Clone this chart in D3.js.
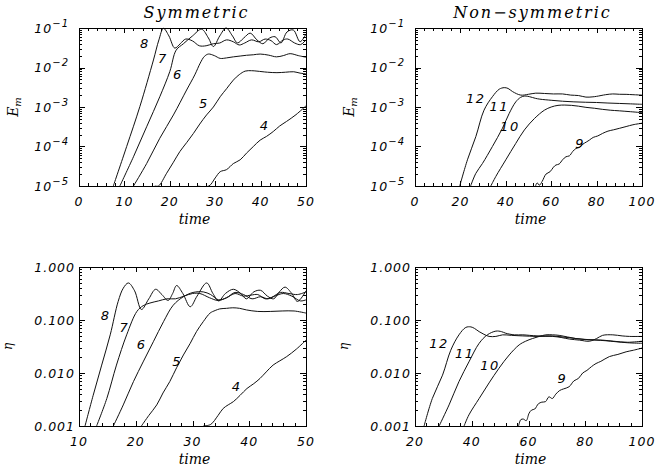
<!DOCTYPE html>
<html><head><meta charset="utf-8">
<script src="https://cdn.jsdelivr.net/npm/d3@7"></script>
<style>body{margin:0;background:#fff}</style>
</head><body><svg id="c" width="672" height="470"></svg>
<script>
// ---------------- DATA ----------------
const titles = ["Symmetric", "Non\u2212symmetric"];
const xLabel = "time";
const symTimeTicks = [0, 10, 20, 30, 40, 50];
const nonTimeTicks = [0, 20, 40, 60, 80, 100];
const symEtaTimeTicks = [10, 20, 30, 40, 50];
const nonEtaTimeTicks = [20, 40, 60, 80, 100];
const emTicks = [1e-5, 1e-4, 1e-3, 1e-2, 1e-1];
const emTickExp = ["\u22125", "\u22124", "\u22123", "\u22122", "\u22121"];
const etaTicks = [0.001, 0.01, 0.1, 1];
const etaTickLabels = ["0.001", "0.010", "0.100", "1.000"];

// Symmetric, E_m  [time, value]
const symEm4 = [[26,1e-5],[28.6,1e-5],[30,1.6e-5],[31.1,2.3e-5],[32.5,2.6e-5],[34,3.7e-5],[35.5,4.6e-5],[36.9,6.8e-5],[38.4,1.0e-4],[39.9,1.45e-4],[41.3,1.8e-4],[42.8,2.4e-4],[44.2,3.3e-4],[45.7,4.3e-4],[47.8,6.4e-4],[50,1.07e-3]];
const symEm5 = [[16.7,1e-5],[17.5,1e-5],[19.3,2.1e-5],[20.8,4.0e-5],[22.2,7.4e-5],[23.7,1.25e-4],[25.2,2.14e-4],[26.6,3.7e-4],[28.1,6.3e-4],[29.6,1.0e-3],[31.1,1.82e-3],[32.5,2.9e-3],[34,4.8e-3],[35.3,6.6e-3],[36.6,8.1e-3],[38,8.3e-3],[39.2,8.1e-3],[41.5,7.6e-3],[43.6,7.4e-3],[45.5,7.6e-3],[47.3,7.8e-3],[48.7,7.2e-3],[50,6.9e-3]];
const symEm6 = [[12,1e-5],[14.9,3.7e-5],[17.8,1.62e-4],[20.8,6.3e-4],[23.7,2.69e-3],[25.5,6.5e-3],[26.7,0.0129],[27.6,0.019],[28.5,0.0219],[29.8,0.020],[31.1,0.017],[32.5,0.0175],[34,0.0186],[35.5,0.0195],[36.9,0.0204],[38.4,0.021],[39.9,0.0219],[41.8,0.0205],[43.5,0.0186],[45,0.020],[46.5,0.0224],[48.3,0.020],[50,0.0182]];
const symEm7 = [[9,1e-5],[12,5.5e-5],[14.9,3.16e-4],[17.8,1.82e-3],[20,7.9e-3],[21.4,0.0275],[23,0.04],[25,0.063],[27,0.093],[28.5,0.056],[29.6,0.034],[31,0.063],[32.4,0.1],[33.8,0.063],[34.9,0.042],[36.3,0.056],[37.7,0.074],[39.2,0.05],[40.5,0.04],[42,0.056],[43.2,0.06],[44.5,0.042],[45.8,0.079],[47.2,0.089],[48.7,0.045],[50,0.071]];
const symEm8 = [[7.56,1e-5],[10.5,1e-4],[13.4,1.02e-3],[16.4,0.0155],[17.6,0.05],[18.6,0.098],[19.8,0.063],[21.1,0.031],[22.3,0.04],[23.5,0.0525],[25,0.047],[26.5,0.0355],[28,0.0355],[29.6,0.04],[31,0.0417],[32.5,0.05],[34,0.0447],[35.3,0.0372],[36.5,0.0417],[38,0.05],[39.6,0.0447],[41,0.0525],[42.3,0.0479],[43.5,0.038],[45,0.05],[46,0.0525],[47.5,0.0417],[48.8,0.038],[50,0.05]];

// Non-symmetric, E_m
const nonEm9 = [[53.1,1.0e-5],[53.8,1.2e-5],[54.8,1.05e-5],[56,1.3e-5],[57.7,2.0e-5],[59.5,2.3e-5],[61,3.0e-5],[62.1,3.4e-5],[63.5,3.6e-5],[65,4.6e-5],[66.5,5.5e-5],[68,5.8e-5],[69.5,7.5e-5],[70.9,8.9e-5],[72.5,9.5e-5],[74,1.15e-4],[75.5,1.3e-4],[76.8,1.45e-4],[78.5,1.7e-4],[80.5,1.85e-4],[82.6,2.14e-4],[85,2.45e-4],[87.5,2.65e-4],[90,2.88e-4],[93,3.2e-4],[96,3.55e-4],[100,3.89e-4]];
const nonEm10 = [[33.4,1e-5],[35.6,1.74e-5],[40,4.6e-5],[44.4,1.2e-4],[48.2,2.63e-4],[52.6,5.1e-4],[57,8.3e-4],[60,1.0e-3],[63,1.1e-3],[66,1.12e-3],[69,1.1e-3],[72,1.05e-3],[75.3,9.8e-4],[79,9.3e-4],[82.7,8.7e-4],[86,8.3e-4],[90,8.0e-4],[95,7.6e-4],[100,7.2e-4]];
const nonEm11 = [[24.5,1e-5],[26.8,2.09e-5],[29.7,3.7e-5],[34.1,1.0e-4],[38.5,2.88e-4],[41.5,6.9e-4],[44.4,1.35e-3],[46.5,1.75e-3],[48.4,1.9e-3],[50.5,1.82e-3],[53,1.66e-3],[55,1.58e-3],[60,1.48e-3],[65,1.4e-3],[70,1.35e-3],[75,1.32e-3],[80,1.3e-3],[85,1.26e-3],[90,1.23e-3],[95,1.2e-3],[100,1.17e-3]];
const nonEm12 = [[19.7,1e-5],[23.1,4.6e-5],[26.8,1.78e-4],[30.4,8.3e-4],[34.1,1.82e-3],[37.1,2.82e-3],[39.3,3.09e-3],[41,2.95e-3],[43,2.45e-3],[46.6,2.0e-3],[50,2.1e-3],[53.2,2.24e-3],[57,2.2e-3],[61,2.14e-3],[65,2.14e-3],[68.6,2.0e-3],[72,1.95e-3],[75.3,1.78e-3],[78,1.8e-3],[80,1.86e-3],[84,2.05e-3],[87.1,2.14e-3],[90,2.1e-3],[93,2.09e-3],[96,2.05e-3],[100,2.0e-3]];

// Symmetric, eta
const symEta4 = [[31.9,1e-3],[33.2,1.07e-3],[34.5,1.58e-3],[35.4,2.14e-3],[36.3,2.51e-3],[37.2,2.88e-3],[38.4,3.8e-3],[39.6,5.1e-3],[40.8,6.3e-3],[41.9,7.9e-3],[43,0.0105],[44.2,0.0141],[45.4,0.017],[46.6,0.0204],[48.3,0.0282],[50,0.0417]];
const symEta5 = [[21,1e-3],[22.3,1.58e-3],[23.7,2.5e-3],[24.8,4.2e-3],[26,6.9e-3],[27.2,0.0126],[28.4,0.0219],[29.6,0.0363],[30.7,0.0603],[31.9,0.0933],[33.1,0.135],[34,0.151],[34.8,0.162],[36,0.166],[37.1,0.17],[38.3,0.166],[39.5,0.155],[41.5,0.145],[43.7,0.145],[45.8,0.148],[47.9,0.148],[50,0.135]];
const symEta6 = [[16.05,1e-3],[17.8,2.5e-3],[19.6,6.9e-3],[21.3,0.0162],[23.1,0.0389],[24.9,0.0933],[26.6,0.19],[28.4,0.275],[30.1,0.331],[31.9,0.339],[33.2,0.302],[34.6,0.24],[36,0.263],[37.5,0.316],[39,0.282],[40.3,0.295],[41.5,0.302],[42.8,0.251],[44,0.269],[45.5,0.331],[47,0.316],[48.5,0.302],[50,0.339]];
const symEta7 = [[13.1,1e-3],[14.9,3.3e-3],[16.6,0.0141],[18.4,0.0525],[20.2,0.145],[21.3,0.186],[22.5,0.209],[24,0.229],[25.5,0.251],[27,0.251],[28.5,0.282],[30,0.316],[31.3,0.316],[33,0.263],[34.5,0.234],[36,0.263],[37.5,0.331],[39,0.302],[40.5,0.251],[42,0.275],[43.3,0.251],[44.5,0.282],[46,0.316],[47.5,0.282],[49,0.229],[50,0.24]];
const symEta8 = [[11.06,1e-3],[12.5,3.8e-3],[14,0.0141],[15.5,0.0525],[16.9,0.224],[17.8,0.398],[18.7,0.5],[19.8,0.355],[21,0.158],[22.3,0.251],[23.5,0.38],[24.6,0.302],[25.7,0.234],[26.5,0.316],[27.2,0.447],[28.3,0.316],[29.6,0.178],[30.8,0.282],[32.5,0.5],[33.6,0.316],[34.6,0.229],[35.8,0.316],[37.2,0.38],[38.5,0.316],[39.5,0.251],[40.8,0.339],[42,0.363],[43.2,0.282],[44.3,0.251],[45.3,0.339],[46.3,0.417],[47.5,0.316],[48.5,0.224],[50,0.355]];

// Non-symmetric, eta
const nonEta9 = [[56.5,1e-3],[57.3,1.32e-3],[58.2,1.35e-3],[59.2,1.26e-3],[60.2,1.74e-3],[61.1,2.0e-3],[62.2,2.09e-3],[63.5,2.63e-3],[64.7,2.82e-3],[66,2.88e-3],[67.2,3.55e-3],[68.4,3.3e-3],[69.6,3.98e-3],[71,4.68e-3],[72.3,5.0e-3],[74.3,5.5e-3],[76,7.1e-3],[77.6,7.9e-3],[79.1,0.01],[80.6,0.0112],[82.2,0.0132],[83.8,0.0151],[85.5,0.0166],[88.5,0.0204],[91.5,0.0224],[94.4,0.0251],[97,0.0269],[100,0.0295]];
const nonEta10 = [[37.3,1e-3],[39,1.62e-3],[42.6,3.3e-3],[46.1,6.5e-3],[49.6,0.0123],[53.2,0.0219],[56.7,0.0339],[59,0.0398],[61.4,0.0447],[63.8,0.049],[66.1,0.0525],[68.5,0.0525],[70.8,0.0513],[73.7,0.0479],[76.7,0.0447],[80,0.0427],[83.8,0.0417],[87,0.0407],[90.8,0.0389],[95,0.0372],[100,0.0363]];
const nonEta11 = [[28.5,1e-3],[32,2.5e-3],[35.5,6.9e-3],[39,0.0162],[42.6,0.0363],[45.5,0.0525],[48.5,0.0617],[50.5,0.0603],[52,0.0562],[55,0.0525],[58,0.0525],[63,0.0501],[68,0.0501],[72,0.0479],[76.7,0.0447],[81,0.0427],[86.1,0.0417],[90,0.0398],[95,0.038],[100,0.0398]];
const nonEta12 = [[23.2,1e-3],[26.1,3.3e-3],[29.7,9.1e-3],[32.6,0.0269],[35.5,0.0525],[37.9,0.0724],[39.7,0.0741],[41,0.0692],[42.6,0.0603],[44.3,0.0537],[46.1,0.049],[48.5,0.049],[50.9,0.0525],[54,0.0513],[58,0.0501],[63,0.049],[68.5,0.049],[71.5,0.0468],[74.4,0.0437],[78,0.0417],[81.4,0.0398],[84,0.0447],[86.1,0.0513],[89.7,0.0525],[93,0.0501],[95.6,0.049],[100,0.049]];

// curve labels: [text, time, value]
const symEmLabels = [["8",14.5,0.04],["7",18.5,0.0174],["6",21.8,6.6e-3],["5",27.5,1.26e-3],["4",40.9,3.5e-4]];
const nonEmLabels = [["12",26.8,1.7e-3],["11",37.1,1.02e-3],["10",41.8,3.2e-4],["9",72.8,1.2e-4]];
const symEtaLabels = [["8",14.7,0.124],["7",18.0,0.073],["6",21.05,0.035],["5",27.3,0.0166],["4",37.8,5.6e-3]];
const nonEtaLabels = [["12",28.5,0.0357],["11",37.5,0.0235],["10",46.4,0.0141],["9",71.9,7.9e-3]];

// ---------------- DRAW ----------------
const svg = d3.select("#c");
svg.append("rect").attr("width",672).attr("height",470).attr("fill","#fff");
const tickFont = "'DejaVu Sans', sans-serif";
const serifFont = "'DejaVu Serif', serif";

const panels = [
  {box:[79,306,28,186], xdom:[0,50], xticks:symTimeTicks, xminor:2, ydom:[1e-5,1e-1], yticks:emTicks, ytype:"em", title:titles[0], ylab:"em", series:[symEm4,symEm5,symEm6,symEm7,symEm8], labels:symEmLabels},
  {box:[415,642,28,186], xdom:[0,100], xticks:nonTimeTicks, xminor:4, ydom:[1e-5,1e-1], yticks:emTicks, ytype:"em", title:titles[1], ylab:"em", series:[nonEm9,nonEm10,nonEm11,nonEm12], labels:nonEmLabels},
  {box:[79,306,267,426], xdom:[10,50], xticks:symEtaTimeTicks, xminor:2, ydom:[1e-3,1], yticks:etaTicks, ytype:"eta", title:null, ylab:"eta", series:[symEta4,symEta5,symEta6,symEta7,symEta8], labels:symEtaLabels},
  {box:[415,642,267,426], xdom:[20,100], xticks:nonEtaTimeTicks, xminor:4, ydom:[1e-3,1], yticks:etaTicks, ytype:"eta", title:null, ylab:"eta", series:[nonEta9,nonEta10,nonEta11,nonEta12], labels:nonEtaLabels}
];

panels.forEach((p,pi) => {
  const [x0,x1,y0,y1] = p.box;
  const x = d3.scaleLinear().domain(p.xdom).range([x0,x1]);
  const y = d3.scaleLog().domain(p.ydom).range([y1,y0]).clamp(true);
  const g = svg.append("g");
  const clipId = "clip"+pi;
  g.append("clipPath").attr("id",clipId).append("rect").attr("x",x0).attr("y",y0-1).attr("width",x1-x0).attr("height",y1-y0+2);
  const line = d3.line().x(d=>x(d[0])).y(d=>y(d[1])).curve(d3.curveCatmullRom.alpha(0.5));
  p.series.forEach(s => g.append("path").attr("d", line(s)).attr("clip-path","url(#"+clipId+")")
     .attr("fill","none").attr("stroke","#111").attr("stroke-width",1));
  // box
  const tg = g.append("g").attr("shape-rendering","crispEdges").attr("stroke","#000").attr("stroke-width",1);
  tg.append("rect").attr("x",x0+0.5).attr("y",y0+0.5).attr("width",x1-x0).attr("height",y1-y0).attr("fill","none");
  // x ticks
  const xmin = d3.range(p.xdom[0], p.xdom[1]+1e-9, p.xminor);
  xmin.forEach(v => {
    const major = p.xticks.includes(v);
    const L = major ? 5 : 3;
    const px = Math.round(x(v))+0.5;
    tg.append("line").attr("x1",px).attr("x2",px).attr("y1",y1).attr("y2",y1-L);
    tg.append("line").attr("x1",px).attr("x2",px).attr("y1",y0).attr("y2",y0+L);
  });
  // y ticks (log)
  p.yticks.forEach((d,i) => {
    const py = Math.round(y(d))+0.5;
    tg.append("line").attr("x1",x0).attr("x2",x0+6).attr("y1",py).attr("y2",py);
    tg.append("line").attr("x1",x1).attr("x2",x1-6).attr("y1",py).attr("y2",py);
    if (i < p.yticks.length-1) {
      for (let k=2;k<=9;k++) {
        const q = Math.round(y(d*k))+0.5;
        tg.append("line").attr("x1",x0).attr("x2",x0+3).attr("y1",q).attr("y2",q);
        tg.append("line").attr("x1",x1).attr("x2",x1-3).attr("y1",q).attr("y2",q);
      }
    }
  });
  // x tick labels
  p.xticks.forEach(v => {
    g.append("text").attr("x",x(v)).attr("y",y1+20).attr("text-anchor","middle")
      .attr("font-family",tickFont).attr("font-style","italic").attr("font-size",12.5).attr("letter-spacing",1)
      .attr("fill","#000").text(v);
  });
  // y tick labels
  p.yticks.forEach((d,i) => {
    if (p.ytype === "em") {
      const t = g.append("text").attr("x",x0-10).attr("y",y(d)+4.5).attr("text-anchor","end")
        .attr("font-family",tickFont).attr("font-style","italic").attr("font-size",12.5).attr("letter-spacing",1).attr("fill","#000");
      t.append("tspan").text("10");
      t.append("tspan").attr("dy",-6).attr("font-size",10).text(emTickExp[i]);
    } else {
      g.append("text").attr("x",x0-4).attr("y",y(d)+4.5).attr("text-anchor","end")
        .attr("font-family",tickFont).attr("font-style","italic").attr("font-size",12.5).attr("letter-spacing",1)
        .attr("fill","#000").text(etaTickLabels[i]);
    }
  });
  // x axis title
  g.append("text").attr("x",(x0+x1)/2+2).attr("y",y1+38).attr("text-anchor","middle")
    .attr("font-family",serifFont).attr("font-style","italic").attr("font-size",14).attr("fill","#000").text(xLabel);
  // y axis title
  if (p.ylab === "em") {
    const t = g.append("text").attr("transform",`translate(${x0-61},${(y0+y1)/2}) rotate(-90)`).attr("text-anchor","middle")
      .attr("font-family",serifFont).attr("font-style","italic").attr("font-size",14).attr("fill","#000");
    t.append("tspan").text("E");
    t.append("tspan").attr("dy",3).attr("font-size",10).text("m");
  } else {
    g.append("text").attr("transform",`translate(${x0-67},${(y0+y1)/2}) rotate(-90)`).attr("text-anchor","middle")
      .attr("font-family",serifFont).attr("font-style","italic").attr("font-size",12).attr("fill","#000").text("\u03b7");
  }
  // title
  if (p.title) {
    g.append("text").attr("x",(x0+x1)/2+4).attr("y",18).attr("text-anchor","middle")
      .attr("font-family",serifFont).attr("font-style","italic").attr("font-size",16).attr("letter-spacing",2)
      .attr("fill","#000").text(p.title);
  }
  // curve labels
  p.labels.forEach(l => {
    g.append("text").attr("x",x(l[1])).attr("y",y(l[2])+4.7).attr("text-anchor","middle")
      .attr("font-family",tickFont).attr("font-style","italic").attr("font-size",13).attr("letter-spacing",1.5)
      .attr("fill","#000").text(l[0]);
  });
});
</script></body></html>
